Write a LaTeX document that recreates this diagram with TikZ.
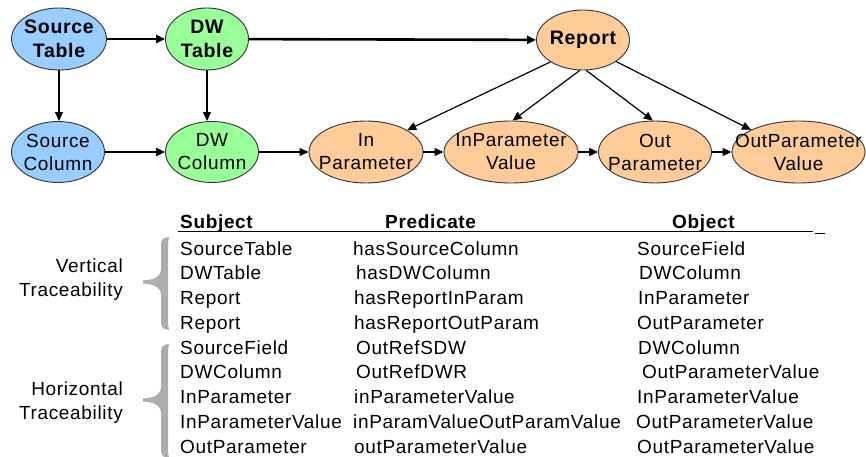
\documentclass[tikz,border=0pt]{standalone}
\usepackage{fontspec}
\setmainfont{Liberation Sans}[LetterSpace=3.5]
\usetikzlibrary{shapes.geometric,arrows.meta}

\definecolor{srcblue}{HTML}{99CCFF}
\definecolor{dwgreen}{HTML}{99FF99}
\definecolor{reporange}{HTML}{FFCC99}
\definecolor{edgegray}{HTML}{333333}
\definecolor{bracegray}{HTML}{ADADAD}

% curly grouping brace: top, tip and bottom y positions
\newcommand{\grpbrace}[3]{%
  \fill[bracegray] (169,#1) .. controls (163,#1+1) .. (161,#1+6)
    -- (161,#2-12) .. controls (160,#2-4) and (152,#2-2) .. (143,#2-1.6)
    -- (143,#2+1.6) .. controls (152,#2+2) and (160,#2+4) .. (161,#2+12)
    -- (161,#3-6) .. controls (163,#3-1) .. (169,#3)
    -- (168,#3-6) -- (168,#1+6) -- cycle;}

\begin{document}
\begin{tikzpicture}[x=1pt,y=-1pt,
  >={Triangle[length=9pt,width=8pt]},
  ell/.style 2 args={ellipse, draw=edgegray, line width=0.9pt, inner sep=0pt,
    minimum width=#1pt, minimum height=#2pt},
  toptxt/.style={font=\fontsize{19.5}{24}\selectfont\bfseries, align=center, inner sep=0pt},
  bottxt/.style={font=\fontsize{19}{23}\selectfont, align=center, inner sep=0pt},
  thickarr/.style={->, line width=2.6pt, black},
  thinarr/.style={->, line width=1.2pt, black},
  cell/.style={anchor=base west, inner sep=0pt, font=\fontsize{19}{23}\selectfont},
  headcell/.style={anchor=base west, inner sep=0pt, font=\fontsize{19}{23}\selectfont\bfseries},
  sidelabel/.style={anchor=base east, inner sep=0pt, font=\fontsize{19}{23}\selectfont},
]
\fill[white] (0,0) rectangle (866,457);
\useasboundingbox (0,0) rectangle (866,457);

% ---------- entity nodes ----------
\node[ell={95}{62}, fill=srcblue, label={[toptxt]center:Source\\Table}] (st) at (59,39) {};
\node[ell={83}{62}, fill=dwgreen, label={[toptxt]center:DW\\Table}] (dwt) at (207,39) {};
\node[ell={93}{60}, fill=reporange, label={[toptxt]center:Report}] (rep) at (583,40) {};

\node[ell={93}{61}, fill=srcblue, label={[bottxt]center:Source\\Column}] (sc) at (58,152) {};
\node[ell={93}{61}, fill=dwgreen, label={[bottxt]center:DW\\Column}] (dwc) at (212,152) {};
\node[ell={114}{62}, fill=reporange, label={[bottxt]center:In\\Parameter}] (inp) at (366,152) {};
\node[ell={134}{62}, fill=reporange, label={[bottxt]center:InParameter\\Value}] (inpv) at (511,152) {};
\node[ell={113}{62}, fill=reporange, label={[bottxt]center:Out\\Parameter}] (outp) at (655,152) {};
\node[ell={133}{62}, fill=reporange, label={[bottxt]center:OutParameter\\Value}] (outpv) at (798.5,152) {};

% ---------- connectors ----------
\draw[thickarr] (st) -- (dwt);
\draw[thickarr] (dwt) -- (rep);
\draw[thinarr] (st.south) -- (st.south |- sc.north);
\draw[thinarr] (dwt.south) -- (dwt.south |- dwc.north);
\draw[thickarr] (sc) -- (dwc);
\draw[thinarr] (dwc) -- (inp);
\draw[thinarr] (inp) -- (inpv);
\draw[thinarr] (inpv) -- (outp);
\draw[thinarr] (outp) -- (outpv);

\draw[thinarr] (rep.214) -- (inp.28);
\draw[thinarr] (rep.264) -- (inpv.87);
\draw[thinarr] (rep.276) -- (outp.94);
\draw[thinarr] (rep.327) -- (outpv.155);

% ---------- triple table ----------
\node[headcell] (hsubj) at (180,228) {Subject};
\node[headcell] (hpred) at (385,228) {Predicate};
\node[headcell] (hobj) at (672,228) {Object};
\draw[line width=1.3pt] (178,231.5) -- (813,231.5);
\draw[line width=1.3pt] (815,233.5) -- (825,233.5);

\foreach \i/\s/\px/\p/\ox/\o in {
  1/SourceTable/353/hasSourceColumn/637/SourceField,
  2/DWTable/356/hasDWColumn/639/DWColumn,
  3/Report/354/hasReportInParam/638/InParameter,
  4/Report/354/hasReportOutParam/637/OutParameter,
  5/SourceField/356/OutRefSDW/638/DWColumn,
  6/DWColumn/356/OutRefDWR/642/OutParameterValue,
  7/InParameter/354/inParameterValue/637/InParameterValue,
  8/InParameterValue/353/inParamValueOutParamValue/636/OutParameterValue,
  9/OutParameter/354/outParameterValue/637/OutParameterValue}{
  \node[cell] (subj\i) at (180,{255+24.75*(\i-1)}) {\s};
  \node[cell] (pred\i) at (\px,{255+24.75*(\i-1)}) {\p};
  \node[cell] (obj\i) at (\ox,{255+24.75*(\i-1)}) {\o};
}

% ---------- grouping braces ----------
\grpbrace{237}{282}{330}
\grpbrace{344}{400}{458}

\node[sidelabel] (vlab1) at (123,272) {Vertical};
\node[sidelabel] (vlab2) at (123,296) {Traceability};
\node[sidelabel] (hlab1) at (123,395) {Horizontal};
\node[sidelabel] (hlab2) at (123,419) {Traceability};
\end{tikzpicture}
\end{document}
